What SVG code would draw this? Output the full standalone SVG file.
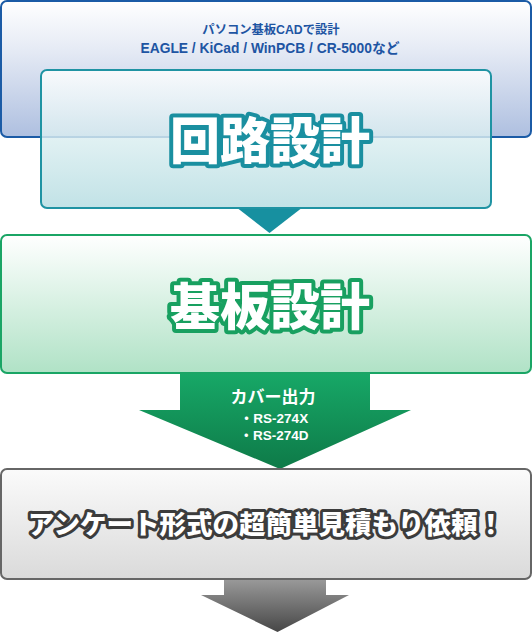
<svg xmlns="http://www.w3.org/2000/svg" width="532" height="632" viewBox="0 0 532 632">
<defs>
<linearGradient id="gBlue" x1="0" y1="0" x2="0" y2="1"><stop offset="0" stop-color="#ffffff"/><stop offset="0.35" stop-color="#e6ebf5"/><stop offset="1" stop-color="#aebfe0"/></linearGradient>
<linearGradient id="gTeal" x1="0" y1="0" x2="0" y2="1"><stop offset="0" stop-color="#ffffff"/><stop offset="1" stop-color="#b4dce1"/></linearGradient>
<linearGradient id="gGreen" x1="0" y1="0" x2="0" y2="1"><stop offset="0" stop-color="#ffffff"/><stop offset="1" stop-color="#b0e2c6"/></linearGradient>
<linearGradient id="gGray" x1="0" y1="0" x2="0" y2="1"><stop offset="0" stop-color="#fbfbfb"/><stop offset="1" stop-color="#dadada"/></linearGradient>
<linearGradient id="gGreenArrow" x1="0" y1="0" x2="0" y2="1"><stop offset="0" stop-color="#17a867"/><stop offset="1" stop-color="#0e7a48"/></linearGradient>
<linearGradient id="gGrayArrow" x1="0" y1="0" x2="0" y2="1"><stop offset="0" stop-color="#9a9a9a"/><stop offset="1" stop-color="#474747"/></linearGradient>
</defs>
<style>
.big{font-family:"Noto Sans CJK JP",sans-serif;font-weight:900;fill:#ffffff;paint-order:stroke;stroke-linejoin:round;text-anchor:middle}
.small{font-family:"Liberation Sans","Noto Sans CJK JP",sans-serif;font-weight:700;text-anchor:middle}
</style>
<g id="cad">
<rect x="1" y="1" width="530" height="136" rx="6" fill="url(#gBlue)" stroke="#1b5ba6" stroke-width="2"/>
<text class="small" x="271" y="34" font-size="12.3" fill="#1e55a3">パソコン基板CADで設計</text>
<text class="small" x="270" y="52.5" font-size="13.8" fill="#1e55a3">EAGLE / KiCad / WinPCB / CR-5000など</text>
</g>
<g id="connectors">
<polygon points="236,207 303,207 269.5,233" fill="#1790a0"/>
<polygon points="180,373 370,373 370,410 411,410 280,469 139,410 180,410" fill="url(#gGreenArrow)"/>
<polygon points="224,579 326,579 326,595 349,595 277.5,632 201,595 224,595" fill="url(#gGrayArrow)"/>
</g>
<g id="circuit">
<rect x="41" y="70" width="450" height="138" rx="6" fill="url(#gTeal)" fill-opacity="0.82" stroke="#1f93a3" stroke-width="2"/>
<text class="big" x="270" y="159" font-size="50" stroke="#1a8fa0" stroke-width="8">回路設計</text>
</g>
<g id="board">
<rect x="1" y="235" width="530" height="138" rx="6" fill="url(#gGreen)" stroke="#1aa565" stroke-width="2"/>
<text class="big" x="270" y="325" font-size="50" stroke="#18a060" stroke-width="8">基板設計</text>
</g>
<g id="gerber">
<text class="small" x="273" y="402.5" font-size="17" fill="#ffffff">カバー出力</text>
<text class="small" x="274" y="423" font-size="13.5" fill="#ffffff">・RS-274X</text>
<text class="small" x="274" y="440" font-size="13.5" fill="#ffffff">・RS-274D</text>
</g>
<g id="estimate">
<rect x="1" y="469" width="530" height="110" rx="6" fill="url(#gGray)" stroke="#666666" stroke-width="2"/>
<text class="big" x="266" y="534" font-size="26.5" stroke="#3c3c3c" stroke-width="6">アンケート形式の超簡単見積もり依頼！</text>
</g>
</svg>
